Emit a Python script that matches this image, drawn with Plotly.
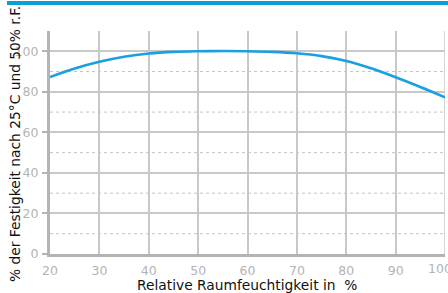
import plotly.graph_objects as go

humidity = [20, 25, 30, 35, 40, 45, 50, 55, 60, 65, 70, 75, 80, 85, 90, 95, 100]
strength = [87.3, 91.5, 94.8, 97.3, 98.9, 99.7, 100, 100.1, 100, 99.7, 99.0, 97.6, 95.2, 91.6, 87.2, 82.4, 77.3]

x_ticks = [20, 30, 40, 50, 60, 70, 80, 90]
x_last_tick = 100
y_ticks = [0, 20, 40, 60, 80, 100]
y_minor = [10, 30, 50, 70, 90]
x_title = "Relative Raumfeuchtigkeit in  %"
y_title = "% der Festigkeit nach 25°C und 50% r.F."

W, H = 448, 293
L, R, T, B = 50, 3, 31, 39
pw, ph = W - L - R, H - T - B

fig = go.Figure()
fig.add_trace(go.Scatter(x=humidity, y=strength, mode="lines",
                         line=dict(color="#1a9fe0", width=2.6, shape="spline"),
                         showlegend=False, hoverinfo="skip", cliponaxis=False))

shapes = []
for v in y_minor:
    shapes.append(dict(type="line", xref="paper", yref="y", x0=0, x1=1, y0=v, y1=v,
                       line=dict(color="#c4c4c4", width=1, dash="dot"), layer="below"))
shapes.append(dict(type="rect", xref="paper", yref="paper",
                   x0=(7 - L) / pw, x1=(W - L) / pw,
                   y0=1 + (T - 5) / ph, y1=1 + (T - 1) / ph,
                   fillcolor="#0aa0d6", line=dict(width=0)))
shapes.append(dict(type="line", xref="x", yref="paper", x0=100, x1=100, y0=0, y1=1,
                   line=dict(color="#c8c8c8", width=1.5), layer="below"))

tickfont = dict(size=12.5, color="#b4b4b4", family="DejaVu Sans")
titlefont = dict(size=13.8, color="#111111", family="DejaVu Sans")

fig.update_layout(
    width=W, height=H, margin=dict(l=L, r=R, t=T, b=B),
    paper_bgcolor="white", plot_bgcolor="white",
    font=dict(family="DejaVu Sans, sans-serif"),
    shapes=shapes,
    annotations=[
        dict(text=x_title, xref="paper", yref="paper", x=(247 - L) / pw, y=-(285 - (H - B)) / ph,
             showarrow=False, xanchor="center", yanchor="middle", font=titlefont),
        dict(text=y_title, xref="paper", yref="paper", x=-(L - 15) / pw, y=(H - B - 144) / ph,
             showarrow=False, xanchor="center", yanchor="middle", textangle=-90, font=titlefont),
        dict(text=str(x_last_tick), xref="x", yref="paper", x=x_last_tick, xshift=-19,
             y=-(268 - (H - B)) / ph, showarrow=False, xanchor="left", yanchor="middle",
             font=tickfont),
    ],
    xaxis=dict(range=[20, 100], tickvals=x_ticks, showgrid=True, gridcolor="#c8c8c8", gridwidth=1.5,
               showline=True, linecolor="#b4b4b4", linewidth=3, zeroline=False, automargin=False,
               ticks="", ticklabelstandoff=3, tickfont=tickfont),
    yaxis=dict(range=[0, 110], tickvals=y_ticks, showgrid=True, gridcolor="#c8c8c8", gridwidth=1.5,
               showline=True, linecolor="#b4b4b4", linewidth=3, zeroline=False, automargin=False,
               ticks="outside", ticklen=5, tickcolor="#b4b4b4", tickwidth=1.5,
               ticklabelstandoff=1, tickfont=tickfont),
)

fig.write_html("out.html", config={"displayModeBar": False},
               post_script="document.body.style.margin='0';document.body.style.overflow='hidden';")
